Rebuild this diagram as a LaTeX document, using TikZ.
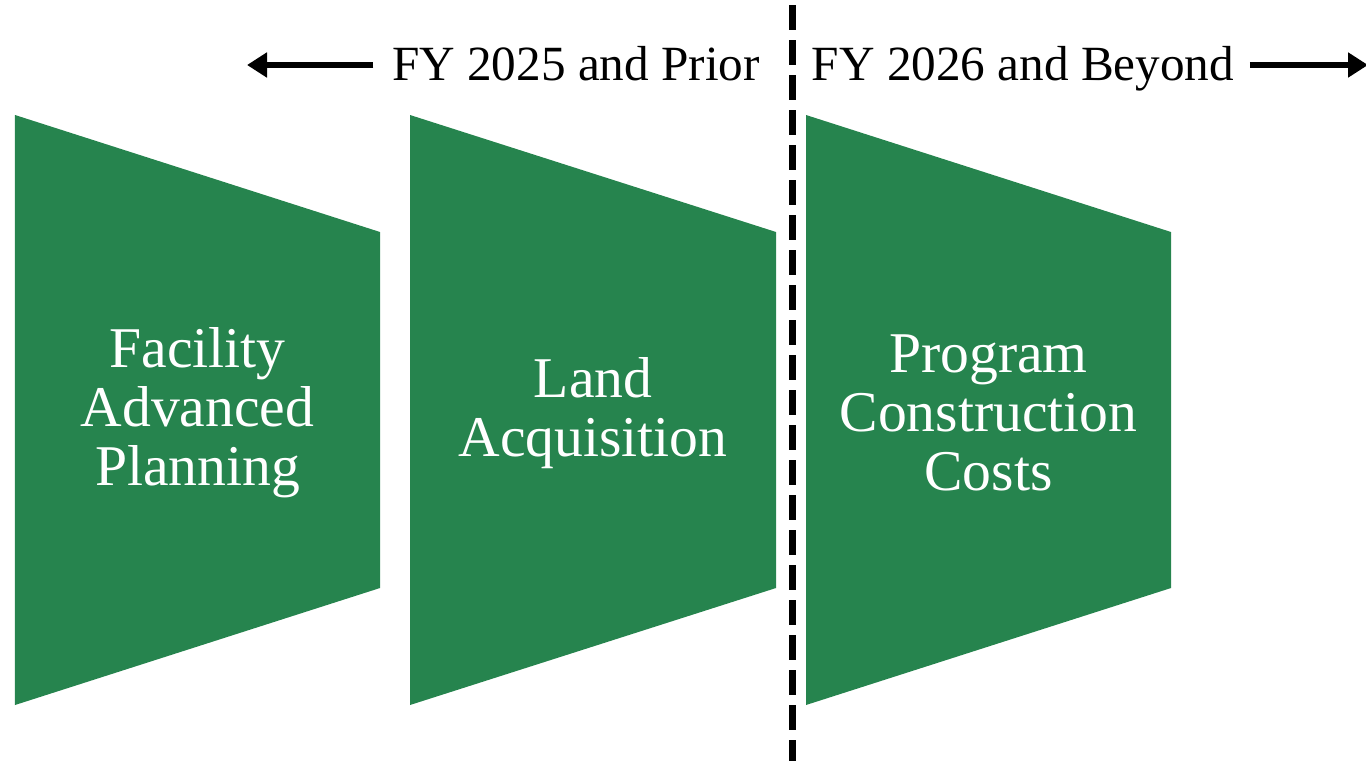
\documentclass[tikz,border=0pt]{standalone}
\usepackage{fontspec}
\setmainfont{Liberation Serif}
\usetikzlibrary{arrows.meta}
\definecolor{stagegreen}{RGB}{38,132,78}

\begin{document}
\begin{tikzpicture}

\tikzstyle{stage}=[fill=stagegreen, draw=none]
\tikzstyle{stagetext}=[text=white, align=center, font=\fontsize{16.4}{16.8}\selectfont]
\tikzstyle{period}=[font=\fontsize{14}{16}\selectfont, inner sep=0pt]
\tikzstyle{connect}=[-{Triangle[length=2mm, width=2.4mm]}, line width=0.6mm]
\tikzstyle{divider}=[line width=0.7mm, dash pattern=on 2.5mm off 1mm]

\useasboundingbox (0,0) rectangle (13.66,7.61);


\fill[stage] (0.15,6.46) -- (3.80,5.29) -- (3.80,1.73) -- (0.15,0.56) -- cycle;
\fill[stage] (4.10,6.46) -- (7.76,5.29) -- (7.76,1.73) -- (4.10,0.56) -- cycle;
\fill[stage] (8.06,6.46) -- (11.71,5.29) -- (11.71,1.73) -- (8.06,0.56) -- cycle;

\node[stagetext] (planning) at (1.975,3.48) {Facility\\Advanced\\Planning};
\node[stagetext] (land) at (5.93,3.48) {Land\\Acquisition};
\node[stagetext] (construction) at (9.885,3.48) {Program\\Construction\\Costs};


\node[period, anchor=base] (prior) at (5.76,6.81) {FY 2025 and Prior};
\node[period, anchor=base] (beyond) at (10.23,6.81) {FY 2026 and Beyond};

\coordinate (priorend) at (2.47,6.96);
\coordinate (beyondend) at (13.68,6.96);
\coordinate (dividertop) at (7.92,7.56);
\coordinate (dividerbottom) at (7.92,0);

\path (prior.west |- priorend) ++(-0.18,0) coordinate (priorstart);
\path (beyond.east |- beyondend) ++(0.15,0) coordinate (beyondstart);

\path (priorstart) [connect] edge (priorend);
\path (beyondstart) [connect] edge (beyondend);

\draw[divider] (dividertop) -- (dividerbottom);

\end{tikzpicture}
\end{document}
